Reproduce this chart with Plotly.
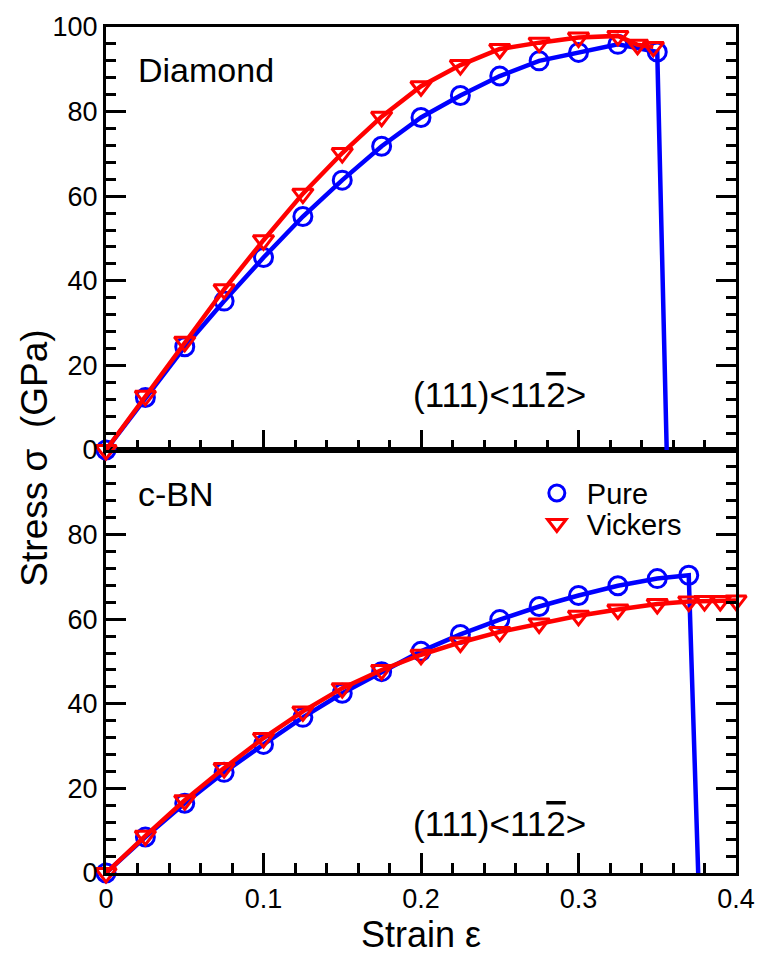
import plotly.graph_objects as go

# ---- data ----
diamond_strain = [0, 0.025, 0.05, 0.075, 0.1, 0.125, 0.15, 0.175, 0.2, 0.225, 0.25, 0.275, 0.3, 0.325, 0.35]
diamond_pure = [0, 12.4, 24.4, 35.2, 45.5, 55.2, 63.8, 71.8, 78.6, 83.8, 88.4, 92.0, 94.0, 95.9, 94.1]
diamond_pure_fail_strain = [0.356]
diamond_pure_fail_stress = [0]

diamond_vk_strain = [0, 0.025, 0.05, 0.075, 0.1, 0.125, 0.15, 0.175, 0.2, 0.225, 0.25, 0.275, 0.3, 0.325, 0.3375, 0.3475]
diamond_vk = [0, 12.8, 25.6, 38.0, 49.6, 60.6, 70.2, 78.8, 86.0, 91.0, 94.8, 96.3, 97.5, 97.9, 95.8, 95.3]

cbn_strain = [0, 0.025, 0.05, 0.075, 0.1, 0.125, 0.15, 0.175, 0.2, 0.225, 0.25, 0.275, 0.3, 0.325, 0.35, 0.37]
cbn_pure = [0, 8.5, 16.5, 23.8, 30.4, 36.8, 42.5, 47.6, 52.4, 56.4, 59.9, 63.0, 65.6, 67.9, 69.6, 70.4]
cbn_pure_fail_strain = [0.376]
cbn_pure_fail_stress = [0]

cbn_vk_strain = [0, 0.025, 0.05, 0.075, 0.1, 0.125, 0.15, 0.175, 0.2, 0.225, 0.25, 0.275, 0.3, 0.325, 0.35, 0.37, 0.38, 0.39, 0.40]
cbn_vk = [0, 8.8, 17.2, 24.8, 31.9, 38.2, 43.7, 48.0, 51.6, 54.5, 57.0, 59.0, 60.8, 62.3, 63.6, 64.2, 64.3, 64.3, 64.4]

x_ticks = [0, 0.1, 0.2, 0.3, 0.4]
x_ticktext = ["0", "0.1", "0.2", "0.3", "0.4"]
y_top_ticks = [0, 20, 40, 60, 80, 100]
y_bot_ticks = [0, 20, 40, 60, 80]

BLUE = "#0000FF"
RED = "#FF0000"
FONT = "Liberation Sans, Arial, Helvetica, sans-serif"

fig = go.Figure()

def add_series(xs, ys, fx, fy, color, symbol, name, yaxis, xaxis, legend, legend_id):
    fig.add_trace(go.Scatter(x=xs + fx, y=ys + fy, mode="lines",
                             line=dict(color=color, width=4.5),
                             xaxis=xaxis, yaxis=yaxis, showlegend=False,
                             cliponaxis=False, hoverinfo="skip"))
    fig.add_trace(go.Scatter(x=xs, y=ys, mode="markers", name=name,
                             marker=dict(symbol=symbol, size=18, color=color,
                                         line=dict(color=color, width=3)),
                             xaxis=xaxis, yaxis=yaxis, showlegend=legend,
                             legend=legend_id, cliponaxis=False))

# top panel (diamond)
add_series(diamond_strain, diamond_pure, diamond_pure_fail_strain, diamond_pure_fail_stress,
           BLUE, "circle-open", "Pure", "y2", "x2", False, "legend")
add_series(diamond_vk_strain, diamond_vk, [], [], RED, "triangle-down-open", "Vickers", "y2", "x2", False, "legend")
# bottom panel (c-BN)
add_series(cbn_strain, cbn_pure, cbn_pure_fail_strain, cbn_pure_fail_stress,
           BLUE, "circle-open", "Pure", "y", "x", True, "legend")
add_series(cbn_vk_strain, cbn_vk, [], [], RED, "triangle-down-open", "Vickers", "y", "x", True, "legend2")

axis_common = dict(showline=True, linecolor="black", linewidth=3, showgrid=False, zeroline=False,
                   ticks="inside", ticklen=20, tickwidth=2.5, tickcolor="black",
                   tickfont=dict(family=FONT, size=27, color="black"))
minor_x = dict(ticks="inside", ticklen=10, tickwidth=2.5, tickcolor="black", dtick=0.02, tick0=0)
minor_y = dict(ticks="inside", ticklen=10, tickwidth=2.5, tickcolor="black", dtick=4, tick0=0)

legend_common = dict(xanchor="left", yanchor="middle", bgcolor="rgba(0,0,0,0)",
                     font=dict(family=FONT, size=29, color="black"), itemwidth=50)

fig.update_layout(
    width=767, height=958,
    margin=dict(l=106, r=23, t=24, b=84),
    paper_bgcolor="white", plot_bgcolor="white",
    font=dict(family=FONT, color="black"),
    xaxis=dict(domain=[0, 1], anchor="y", range=[0, 0.4], tickvals=x_ticks, ticktext=x_ticktext,
               mirror=True, minor=minor_x,
               title=dict(text="Strain ε", font=dict(family=FONT, size=36, color="black"), standoff=6),
               **axis_common),
    xaxis2=dict(domain=[0, 1], anchor="y2", range=[0, 0.4], matches="x", tickvals=x_ticks,
                showticklabels=False, mirror=True, minor=minor_x, **axis_common),
    yaxis=dict(domain=[0, 0.5], anchor="x", range=[0, 100], tickvals=y_bot_ticks, mirror="ticks",
               minor=minor_y, **axis_common),
    yaxis2=dict(domain=[0.5, 1], anchor="x2", range=[0, 100], tickvals=y_top_ticks, mirror="ticks",
                minor=minor_y, **axis_common),
    legend=dict(x=0.668, y=0.449, **legend_common),
    legend2=dict(x=0.668, y=0.413, **legend_common),
    showlegend=True,
)

ann_font = dict(family=FONT, size=35, color="black")
miller = "(111)<11<span style='text-decoration:overline'>2</span>>"
fig.add_annotation(text="Diamond", xref="paper", yref="paper", x=0.047, y=0.949,
                   xanchor="left", yanchor="middle", showarrow=False, font=dict(family=FONT, size=34, color="black"))
fig.add_annotation(text="c-BN", xref="paper", yref="paper", x=0.047, y=0.448,
                   xanchor="left", yanchor="middle", showarrow=False, font=dict(family=FONT, size=34, color="black"))
fig.add_annotation(text=miller, xref="paper", yref="paper", x=0.484, y=0.566,
                   xanchor="left", yanchor="middle", showarrow=False, font=ann_font)
fig.add_annotation(text=miller, xref="paper", yref="paper", x=0.484, y=0.058,
                   xanchor="left", yanchor="middle", showarrow=False, font=ann_font)
fig.add_annotation(text="Stress σ  (GPa)", xref="paper", yref="paper", x=-0.114, y=0.49,
                   xanchor="center", yanchor="middle", textangle=-90, showarrow=False,
                   font=dict(family=FONT, size=37, color="black"))

fig.write_html("out.html")
